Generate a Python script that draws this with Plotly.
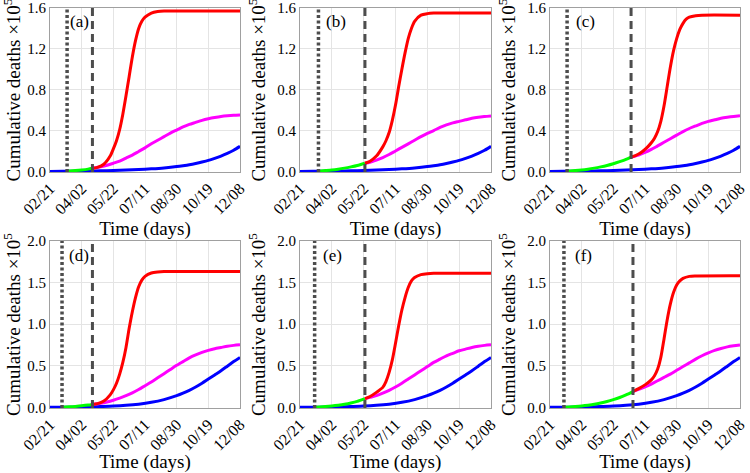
import plotly.graph_objects as go
from plotly.subplots import make_subplots

# ---------------- data ----------------
tick_days = [0, 50, 100, 150, 200, 250, 300]
tick_labels = ["02/21", "04/02", "05/22", "07/11", "08/30", "10/19", "12/08"]
panel_labels = ["(a)", "(b)", "(c)", "(d)", "(e)", "(f)"]

dotted_days = [27, 29, 27, 19, 23, 22]
dashed_days = [67, 102, 128, 67, 102, 131]

blue_days = [0, 20, 40, 60, 80, 100, 120, 140, 160, 180, 200, 210, 220, 230, 240, 250, 260, 270, 280, 290, 300]
blue_top = [0, 0.001, 0.002, 0.004, 0.006, 0.009, 0.013, 0.018, 0.025, 0.034, 0.047, 0.056, 0.066, 0.078,
            0.092, 0.108, 0.128, 0.15, 0.176, 0.207, 0.245]
blue_bottom = [0, 0.001, 0.003, 0.006, 0.01, 0.015, 0.024, 0.038, 0.06, 0.093, 0.14, 0.17, 0.205, 0.245,
               0.29, 0.34, 0.39, 0.44, 0.495, 0.55, 0.60]

green_a_days = [27, 40, 50, 60, 67]
green_a = [0.002, 0.008, 0.014, 0.022, 0.03]
green_b_days = [29, 40, 50, 60, 70, 80, 90, 102]
green_b = [0.002, 0.008, 0.014, 0.022, 0.032, 0.044, 0.058, 0.08]
green_c_days = [27, 40, 50, 60, 70, 80, 90, 100, 110, 120, 128]
green_c = [0.002, 0.008, 0.014, 0.022, 0.032, 0.044, 0.058, 0.075, 0.095, 0.117, 0.14]
green_d_days = [19, 30, 40, 50, 60, 67]
green_d = [0.002, 0.006, 0.011, 0.018, 0.027, 0.035]
green_e_days = [23, 30, 40, 50, 60, 70, 80, 90, 102]
green_e = [0.002, 0.005, 0.01, 0.017, 0.026, 0.037, 0.052, 0.072, 0.105]
green_f_days = [22, 30, 40, 50, 60, 70, 80, 90, 100, 110, 120, 131]
green_f = [0.002, 0.005, 0.01, 0.017, 0.026, 0.037, 0.052, 0.07, 0.092, 0.118, 0.15, 0.19]

red_a_days = [67, 75, 85, 95, 100, 105, 110, 115, 120, 125, 130, 135, 140, 145, 150, 160, 170, 180, 300]
red_a = [0.03, 0.04, 0.07, 0.15, 0.22, 0.30, 0.41, 0.56, 0.74, 0.93, 1.12, 1.28, 1.40, 1.47, 1.51, 1.55,
         1.565, 1.57, 1.57]
red_b_days = [102, 110, 120, 130, 135, 140, 145, 150, 155, 160, 165, 170, 175, 180, 190, 200, 210, 300]
red_b = [0.08, 0.10, 0.15, 0.24, 0.30, 0.38, 0.50, 0.65, 0.83, 1.00, 1.16, 1.30, 1.40, 1.47, 1.53, 1.545,
         1.55, 1.55]
red_c_days = [128, 135, 140, 145, 150, 155, 160, 165, 170, 175, 180, 185, 190, 195, 200, 205, 210, 215, 220,
              230, 240, 300]
red_c = [0.14, 0.155, 0.17, 0.19, 0.215, 0.245, 0.28, 0.325, 0.39, 0.49, 0.64, 0.83, 1.02, 1.18, 1.30, 1.39,
         1.45, 1.49, 1.51, 1.525, 1.53, 1.53]
red_d_days = [67, 75, 85, 95, 100, 105, 110, 115, 120, 125, 130, 135, 140, 145, 150, 160, 170, 180, 300]
red_d = [0.035, 0.045, 0.075, 0.15, 0.21, 0.29, 0.40, 0.54, 0.72, 0.95, 1.15, 1.32, 1.45, 1.53, 1.575, 1.615,
         1.627, 1.632, 1.632]
red_e_days = [102, 110, 120, 130, 135, 140, 145, 150, 155, 160, 165, 170, 175, 180, 190, 200, 210, 300]
red_e = [0.105, 0.13, 0.18, 0.24, 0.31, 0.42, 0.57, 0.77, 0.98, 1.17, 1.32, 1.44, 1.52, 1.56, 1.595, 1.607,
         1.612, 1.612]
red_f_days = [131, 140, 150, 160, 165, 170, 175, 180, 185, 190, 195, 200, 205, 210, 220, 230, 300]
red_f = [0.19, 0.225, 0.27, 0.33, 0.38, 0.46, 0.60, 0.82, 1.05, 1.24, 1.38, 1.47, 1.52, 1.55, 1.575, 1.58, 1.582]

mag_a_days = [67, 80, 90, 100, 110, 120, 130, 140, 150, 160, 170, 180, 190, 200, 210, 220, 230, 240, 250, 260,
              270, 280, 290, 300]
mag_a = [0.03, 0.045, 0.06, 0.08, 0.10, 0.13, 0.16, 0.195, 0.23, 0.27, 0.305, 0.34, 0.375, 0.405, 0.435, 0.46,
         0.48, 0.50, 0.515, 0.527, 0.537, 0.544, 0.549, 0.552]
mag_b_days = [102, 110, 120, 130, 140, 150, 160, 170, 180, 190, 200, 210, 220, 230, 240, 250, 260, 270, 280,
              290, 300]
mag_b = [0.08, 0.09, 0.11, 0.135, 0.165, 0.2, 0.235, 0.27, 0.305, 0.34, 0.372, 0.40, 0.43, 0.455, 0.475, 0.49,
         0.505, 0.52, 0.53, 0.537, 0.543]
mag_c_days = [128, 140, 150, 160, 170, 180, 190, 200, 210, 220, 230, 240, 250, 260, 270, 280, 290, 300]
mag_c = [0.14, 0.16, 0.185, 0.215, 0.25, 0.285, 0.32, 0.355, 0.39, 0.42, 0.445, 0.47, 0.49, 0.505, 0.52, 0.53,
         0.538, 0.545]
mag_d_days = [67, 80, 90, 100, 110, 120, 130, 140, 150, 160, 170, 180, 190, 200, 210, 220, 230, 240, 250, 260,
              270, 280, 290, 300]
mag_d = [0.035, 0.05, 0.065, 0.085, 0.11, 0.14, 0.175, 0.215, 0.26, 0.305, 0.355, 0.405, 0.455, 0.505, 0.55,
         0.595, 0.63, 0.66, 0.685, 0.705, 0.72, 0.735, 0.745, 0.752]
mag_e_days = [102, 110, 120, 130, 140, 150, 160, 170, 180, 190, 200, 210, 220, 230, 240, 250, 260, 270, 280,
              290, 300]
mag_e = [0.105, 0.12, 0.14, 0.17, 0.205, 0.245, 0.29, 0.34, 0.39, 0.44, 0.49, 0.54, 0.58, 0.62, 0.65, 0.68,
         0.70, 0.72, 0.735, 0.745, 0.752]
mag_f_days = [131, 140, 150, 160, 170, 180, 190, 200, 210, 220, 230, 240, 250, 260, 270, 280, 290, 300]
mag_f = [0.19, 0.215, 0.245, 0.28, 0.32, 0.36, 0.40, 0.445, 0.49, 0.535, 0.58, 0.62, 0.655, 0.685, 0.708, 0.727,
         0.74, 0.75]

panels = [
    (blue_top, green_a_days, green_a, mag_a_days, mag_a, red_a_days, red_a),
    (blue_top, green_b_days, green_b, mag_b_days, mag_b, red_b_days, red_b),
    (blue_top, green_c_days, green_c, mag_c_days, mag_c, red_c_days, red_c),
    (blue_bottom, green_d_days, green_d, mag_d_days, mag_d, red_d_days, red_d),
    (blue_bottom, green_e_days, green_e, mag_e_days, mag_e, red_e_days, red_e),
    (blue_bottom, green_f_days, green_f, mag_f_days, mag_f, red_f_days, red_f),
]

# ---------------- layout geometry ----------------
W, H = 750, 473
col_px = [(50, 240), (300, 491), (550, 740)]
row_px = [(8, 172), (241, 408)]
label_x = [0.095, 0.126, 0.126, 0.088, 0.11, 0.123]

FONT = "serif"

fig = make_subplots(rows=2, cols=3)

for i, (blue, gd, gv, md, mv, rd, rv) in enumerate(panels):
    r, c = i // 3 + 1, i % 3 + 1
    line_common = dict(width=3, shape="spline", smoothing=0.7)
    fig.add_trace(go.Scatter(x=blue_days, y=blue, mode="lines", line=dict(color="#0000ff", **line_common),
                             showlegend=False, hoverinfo="skip"), row=r, col=c)
    fig.add_trace(go.Scatter(x=gd, y=gv, mode="lines", line=dict(color="#00ff00", **line_common),
                             showlegend=False, hoverinfo="skip"), row=r, col=c)
    fig.add_trace(go.Scatter(x=md, y=mv, mode="lines", line=dict(color="#ff00ff", **line_common),
                             showlegend=False, hoverinfo="skip"), row=r, col=c)
    fig.add_trace(go.Scatter(x=rd, y=rv, mode="lines", line=dict(color="#ff0000", **line_common),
                             showlegend=False, hoverinfo="skip"), row=r, col=c)

    x0, x1 = col_px[c - 1]
    y0, y1 = row_px[r - 1]
    fig.update_xaxes(domain=[x0 / W, x1 / W], row=r, col=c)
    fig.update_yaxes(domain=[1 - y1 / H, 1 - y0 / H], row=r, col=c)

    xref = "x" if i == 0 else f"x{i + 1}"
    yref = "y" if i == 0 else f"y{i + 1}"
    fig.add_shape(type="line", xref=xref, yref=f"{yref} domain", x0=dotted_days[i], x1=dotted_days[i],
                  y0=0, y1=1, line=dict(color="#4d4d4d", width=3.5, dash="3px,2.5px"))
    fig.add_shape(type="line", xref=xref, yref=f"{yref} domain", x0=dashed_days[i], x1=dashed_days[i],
                  y0=0, y1=1, line=dict(color="#4d4d4d", width=3, dash="8px,5px"))
    fig.add_annotation(xref=f"{xref} domain", yref=f"{yref} domain", x=label_x[i], y=0.915,
                       xanchor="left", yanchor="middle", text=panel_labels[i], showarrow=False,
                       font=dict(family=FONT, size=17, color="black"))

fig.update_xaxes(range=[0, 300], tickvals=tick_days, ticktext=tick_labels, tickangle=-45,
                 showgrid=True, gridcolor="#e4e4e4", gridwidth=1, showline=True, linecolor="#a0a0a0",
                 linewidth=1, mirror=True, ticks="", zeroline=False, automargin=False,
                 tickfont=dict(family=FONT, size=16, color="black"),
                 title=dict(text="Time (days)", font=dict(family=FONT, size=19, color="black"), standoff=0))
fig.update_yaxes(showgrid=True, gridcolor="#e4e4e4", gridwidth=1, showline=True, linecolor="#a0a0a0",
                 linewidth=1, mirror=True, ticks="", zeroline=False, tickformat=".1f", automargin=False,
                 tickfont=dict(family=FONT, size=15, color="black"),
                 title=dict(text="Cumulative deaths \u00d710<sup>5</sup>",
                            font=dict(family=FONT, size=19, color="black"), standoff=6))
fig.update_yaxes(range=[-0.006, 1.6], tickvals=[0, 0.4, 0.8, 1.2, 1.6], row=1)
fig.update_yaxes(range=[-0.008, 2.0], tickvals=[0, 0.5, 1.0, 1.5, 2.0], row=2)

fig.update_layout(template="none", width=W, height=H, margin=dict(l=0, r=0, t=0, b=0),
                  paper_bgcolor="white", plot_bgcolor="white",
                  font=dict(family=FONT, color="black"))

fig.write_html("out.html", config={"displayModeBar": False},
               post_script="document.body.style.margin='0px';")
